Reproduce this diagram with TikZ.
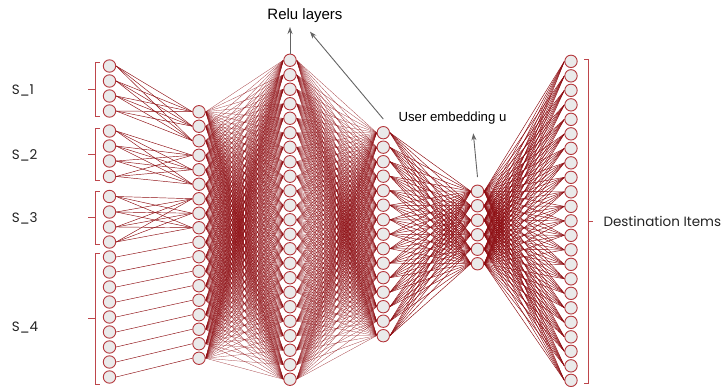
\documentclass[tikz,border=0pt]{standalone}
\usepackage{fontspec}
\newfontfamily\popfont{Poppins}
\newfontfamily\arifont{Liberation Sans}
\usetikzlibrary{backgrounds,arrows.meta}
\definecolor{linkred}{RGB}{140,10,15}
\definecolor{nodered}{RGB}{180,55,60}
\definecolor{nodefill}{RGB}{234,234,234}
\definecolor{brackred}{RGB}{190,70,75}
\definecolor{arrgray}{RGB}{100,100,100}
\definecolor{txt}{RGB}{35,35,35}
\tikzset{
  neuron/.style={circle,draw=nodered,fill=nodefill,line width=0.9pt,minimum size=12.4pt,inner sep=0pt},
  link/.style={draw=linkred,line width=0.45pt},
  denselink/.style={draw=linkred,line width=0.28pt,draw opacity=0.8},
  brack/.style={draw=brackred,line width=0.9pt},
  callout/.style={draw=arrgray,line width=0.9pt,-{Stealth[length=7pt,width=5pt]}},
  lab/.style={font=\popfont\fontsize{13.5}{16}\selectfont,text=txt,anchor=west,inner sep=0pt}
}
\begin{document}
\begin{tikzpicture}[x=1pt,y=-1pt]
\useasboundingbox (0,0) rectangle (724,387);
\def\sp{14.5}
% nodes
\foreach \y [count=\i] in {66,81,96,111,131,146,161,176.5,196.5,212,227,242,257,272,287,302,317,332,347,362,377}
  \node[neuron] (c1-\i) at (109.5,\y) {};
\foreach \i in {1,...,18} \node[neuron] (c2-\i) at (199,{111.75+\sp*(\i-1)}) {};
\foreach \i in {1,...,23} \node[neuron] (c3-\i) at (290,{60.25+\sp*(\i-1)}) {};
\foreach \i in {1,...,15} \node[neuron] (c4-\i) at (383.3,{132.7+\sp*(\i-1)}) {};
\foreach \i in {1,...,6} \node[neuron] (c5-\i) at (477.5,{191.25+\sp*(\i-1)}) {};
\foreach \i in {1,...,23} \node[neuron] (c6-\i) at (571,{61.35+\sp*(\i-1)}) {};
% links
\begin{scope}[on background layer]
\foreach \a in {1,...,4} \foreach \b in {1,2,3} \draw[link] (c1-\a.east) -- (c2-\b.west);
\foreach \a in {5,...,8} \foreach \b in {4,5,6} \draw[link] (c1-\a.east) -- (c2-\b.west);
\foreach \a in {9,...,12} \foreach \b in {7,8,9} \draw[link] (c1-\a.east) -- (c2-\b.west);
\foreach \k in {1,...,9} {\pgfmathtruncatemacro\a{12+\k}\pgfmathtruncatemacro\b{9+\k}\draw[link] (c1-\a.east) -- (c2-\b.west);}
\foreach \a in {1,...,18} \foreach \b in {1,...,23} \draw[denselink] (c2-\a.east) -- (c3-\b.west);
\foreach \a in {1,...,23} \foreach \b in {1,...,15} \draw[denselink] (c3-\a.east) -- (c4-\b.west);
\foreach \a in {1,...,15} \foreach \b in {1,...,6} \draw[link] (c4-\a.east) -- (c5-\b.west);
\foreach \a in {1,...,6} \foreach \b in {1,...,23} \draw[link] (c5-\a.east) -- (c6-\b.west);
\end{scope}
% brackets
\foreach \t/\bt in {62/116,128/180,191/244,253.5/384}
  \draw[brack] (100,\t) -- (95,\t) -- (95,\bt) -- (100,\bt) (95,{(\t+\bt)/2}) -- (88,{(\t+\bt)/2});
\draw[brack] (584,59) -- (588,59) -- (588,383) -- (584,383) (588,221) -- (593,221);
% labels
\node[lab] (s1) at (11.7,90.7) {S\_1};
\node[lab] (s2) at (11.7,155) {S\_2};
\node[lab] (s3) at (11.7,218) {S\_3};
\node[lab] (s4) at (11.7,327) {S\_4};
\node[lab] (dest) at (603.3,221) {Destination Items};
\node[font=\arifont\fontsize{15}{18}\selectfont,text=black,inner sep=0pt] (relu) at (305,16) {Relu layers};
\node[font=\arifont\fontsize{13.2}{16}\selectfont,text=black,inner sep=0pt] (user) at (452.5,118) {User embedding u};
% callout arrows
\coordinate (t1) at (290,27);
\coordinate (t2) at (310,31.7);
\coordinate (t3) at (473.3,133.3);
\draw[callout] (c3-1) -- (t1);
\draw[callout] ([yshift=7pt]c4-1.north) -- (t2);
\draw[callout] ([yshift=7.5pt]c5-1.north) -- (t3);
\end{tikzpicture}
\end{document}
